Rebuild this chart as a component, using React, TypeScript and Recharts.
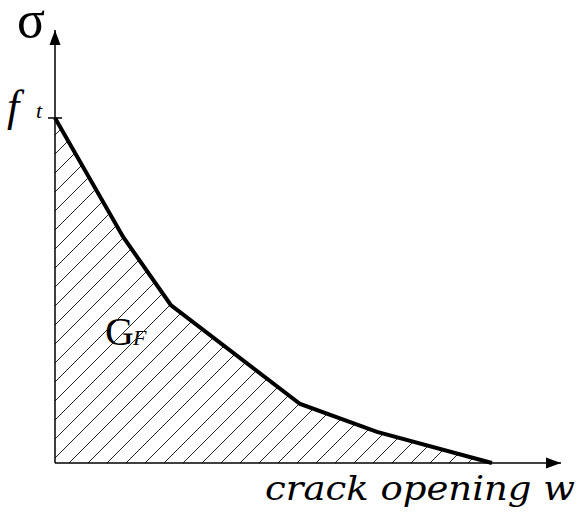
import { ComposedChart, Area, XAxis, YAxis, Customized } from 'recharts';

// softening curve, stress normalised by f_t, opening normalised by w_c
const openings = [0, 0.156, 0.265, 0.561, 0.737, 1.0];
const stresses = [1.0, 0.655, 0.458, 0.171, 0.09, 0];
const stressTicks = [1.0];

const W_MAX = 1.158;
const S_MAX = 1.255;

const W = 581;
const H = 521;
const margin = { top: 30, right: 20, bottom: 57, left: 54 };
const AXIS_X = margin.left + 1;
const AXIS_Y = H - margin.bottom - 1;

const data = openings.map((w, i) => ({ w, s: stresses[i] }));

const SERIF = 'Liberation Serif';
const WIDE_SERIF = 'DejaVu Serif';

function FtTick(props: any) {
  const { y } = props;
  const x = AXIS_X;
  return (
    <g>
      <line x1={x - 7} y1={y} x2={x + 7} y2={y} stroke="#000" strokeWidth={1.5} />
      <text x={x - 48} y={y + 3} fontFamily={SERIF} fontStyle="italic" fontSize={44} fill="#000">f</text>
      <text x={x - 19} y={y} fontFamily={SERIF} fontStyle="italic" fontSize={22} fill="#000">t</text>
    </g>
  );
}

function Decorations() {
  const top = margin.top;
  const right = W - margin.right;
  return (
    <g>
      {/* arrow heads on both axes */}
      <polygon points={`${AXIS_X},${top} ${AXIS_X - 5.5},${top + 15} ${AXIS_X + 5.5},${top + 15}`} fill="#000" />
      <polygon points={`${right},${AXIS_Y} ${right - 15},${AXIS_Y - 5.5} ${right - 15},${AXIS_Y + 5.5}`} fill="#000" />
      <text x={17} y={37} fontFamily={SERIF} fontSize={52} fill="#000">σ</text>
      <text x={105} y={345} fontFamily={SERIF} fontSize={40} fill="#000">G</text>
      <text x={133} y={345} fontFamily={SERIF} fontStyle="italic" fontSize={22} fill="#000">F</text>
      <text x={265} y={500} fontFamily={WIDE_SERIF} fontStyle="italic" fontSize={33} fill="#000"
        textLength={310} lengthAdjust="spacingAndGlyphs">crack opening w</text>
    </g>
  );
}

export default function App() {
  return (
    <div style={{ position: 'absolute', left: 0, top: 0, width: W, height: H, background: '#fff' }}>
      <ComposedChart width={W} height={H} data={data} margin={margin}>
        <defs>
          <pattern id="hatch" patternUnits="userSpaceOnUse" width={19} height={19}>
            <path d="M0,19 L19,0 M-5,5 L5,-5 M14,24 L24,14" stroke="#222" strokeWidth={1} />
          </pattern>
        </defs>
        <XAxis type="number" dataKey="w" domain={[0, W_MAX]} height={1} tick={false} tickLine={false}
          axisLine={{ stroke: '#000', strokeWidth: 1.5 }} />
        <YAxis type="number" domain={[0, S_MAX]} width={1} ticks={stressTicks} tickSize={0} tickMargin={0}
          tickLine={false} tick={<FtTick />} axisLine={{ stroke: '#000', strokeWidth: 1.5 }} />
        <Area type="linear" dataKey="s" stroke="#000" strokeWidth={4} fill="url(#hatch)" fillOpacity={1}
          isAnimationActive={false} dot={false} activeDot={false} />
        <Customized component={<Decorations />} />
      </ComposedChart>
    </div>
  );
}
